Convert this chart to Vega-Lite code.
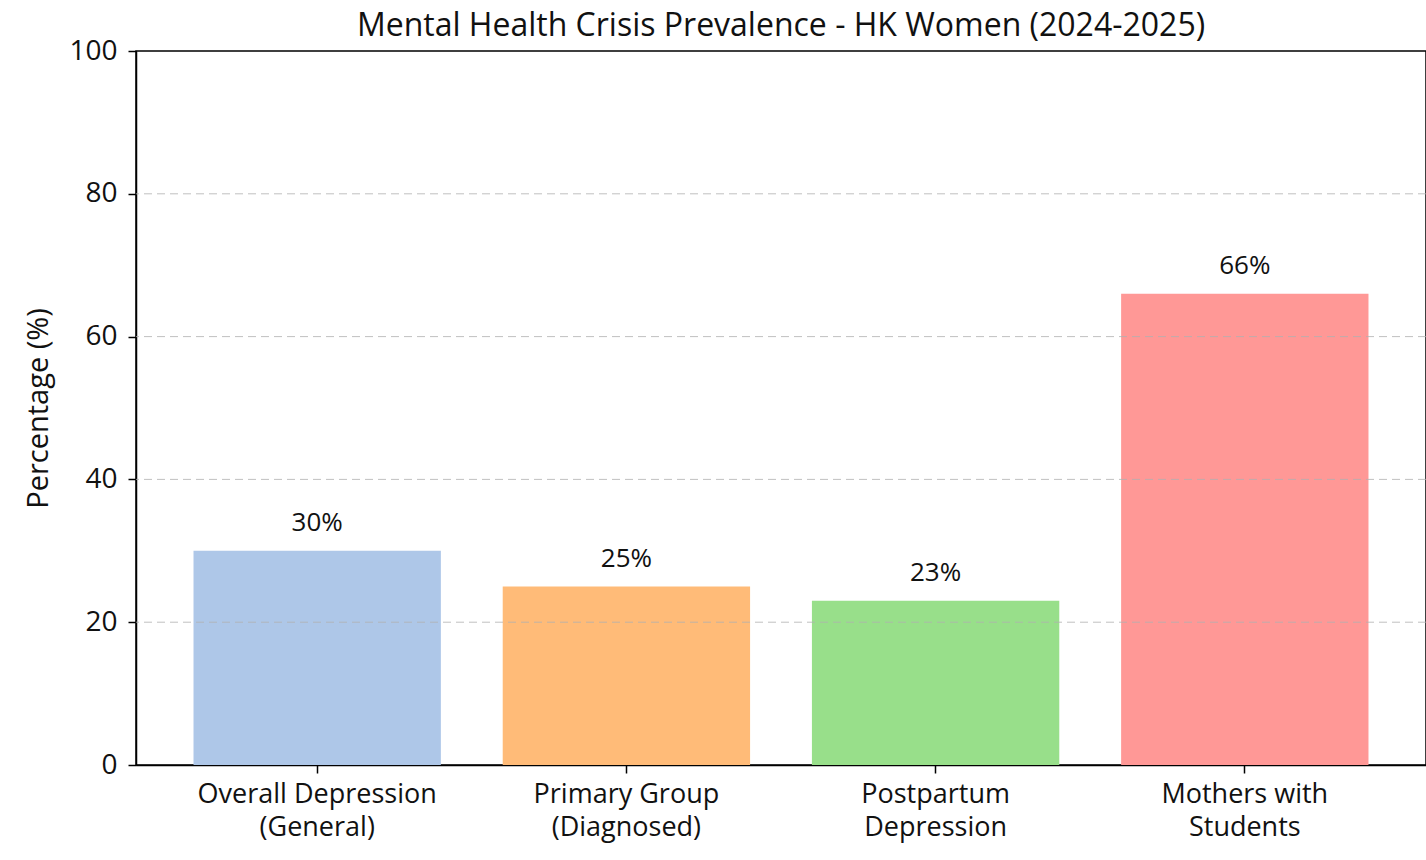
{
  "$schema": "https://vega.github.io/schema/vega-lite/v6.json",
  "autosize": {"type": "none"},
  "padding": {"left": 136, "top": 51, "right": 0, "bottom": 95},
  "width": 1290,
  "height": 714,
  "background": "white",
  "title": {
    "text": "Mental Health Crisis Prevalence - HK Women (2024-2025)",
    "font": "Open Sans",
    "fontSize": 32,
    "fontWeight": "normal",
    "color": "#111111",
    "anchor": "middle",
    "offset": -6
  },
  "config": {
    "view": {"stroke": "black", "strokeWidth": 1.5},
    "axis": {"labelFont": "Open Sans", "titleFont": "Open Sans", "labelColor": "#111111", "titleColor": "#111111"}
  },
  "data": {
    "values": [
      {"category": "Overall Depression|(General)", "value": 30, "label": "30%"},
      {"category": "Primary Group|(Diagnosed)", "value": 25, "label": "25%"},
      {"category": "Postpartum|Depression", "value": 23, "label": "23%"},
      {"category": "Mothers with|Students", "value": 66, "label": "66%"}
    ]
  },
  "layer": [
    {
      "mark": {"type": "bar"},
      "encoding": {
        "x": {
          "field": "category",
          "type": "nominal",
          "sort": null,
          "scale": {"paddingInner": 0.2, "paddingOuter": 0.186},
          "axis": {
            "title": null,
            "labelAngle": 0,
            "labelExpr": "split(datum.label, '|')",
            "labelFontSize": 27,
            "labelLineHeight": 33,
            "labelLimit": 500,
            "labelPadding": 8,
            "tickSize": 8,
            "tickColor": "black",
            "tickWidth": 1.5,
            "domainColor": "black",
            "domainWidth": 1.5,
            "grid": false
          }
        },
        "y": {
          "field": "value",
          "type": "quantitative",
          "scale": {"domain": [0, 100], "nice": false},
          "axis": {
            "title": "Percentage (%)",
            "titleFontSize": 29,
            "titleFontWeight": "normal",
            "titlePadding": 15,
            "values": [0, 20, 40, 60, 80, 100],
            "labelFontSize": 28,
            "labelPadding": 11,
            "tickSize": 8,
            "tickColor": "black",
            "tickWidth": 1.5,
            "domainColor": "black",
            "domainWidth": 1.5,
            "grid": false
          }
        },
        "color": {
          "field": "category",
          "type": "nominal",
          "sort": null,
          "scale": {"range": ["#aec7e8", "#ffbb78", "#98df8a", "#ff9896"]},
          "legend": null
        }
      }
    },
    {
      "mark": {"type": "text", "font": "Open Sans", "fontSize": 26, "baseline": "alphabetic", "dy": -20, "color": "#111111"},
      "encoding": {
        "x": {"field": "category", "type": "nominal", "sort": null},
        "y": {"field": "value", "type": "quantitative"},
        "text": {"field": "label"}
      }
    },
    {
      "data": {"values": [{"g": 20}, {"g": 40}, {"g": 60}, {"g": 80}]},
      "mark": {"type": "rule", "color": "#b0b0b0", "strokeDash": [8, 5], "strokeWidth": 1, "opacity": 0.8},
      "encoding": {
        "y": {"field": "g", "type": "quantitative"}
      }
    }
  ]
}
